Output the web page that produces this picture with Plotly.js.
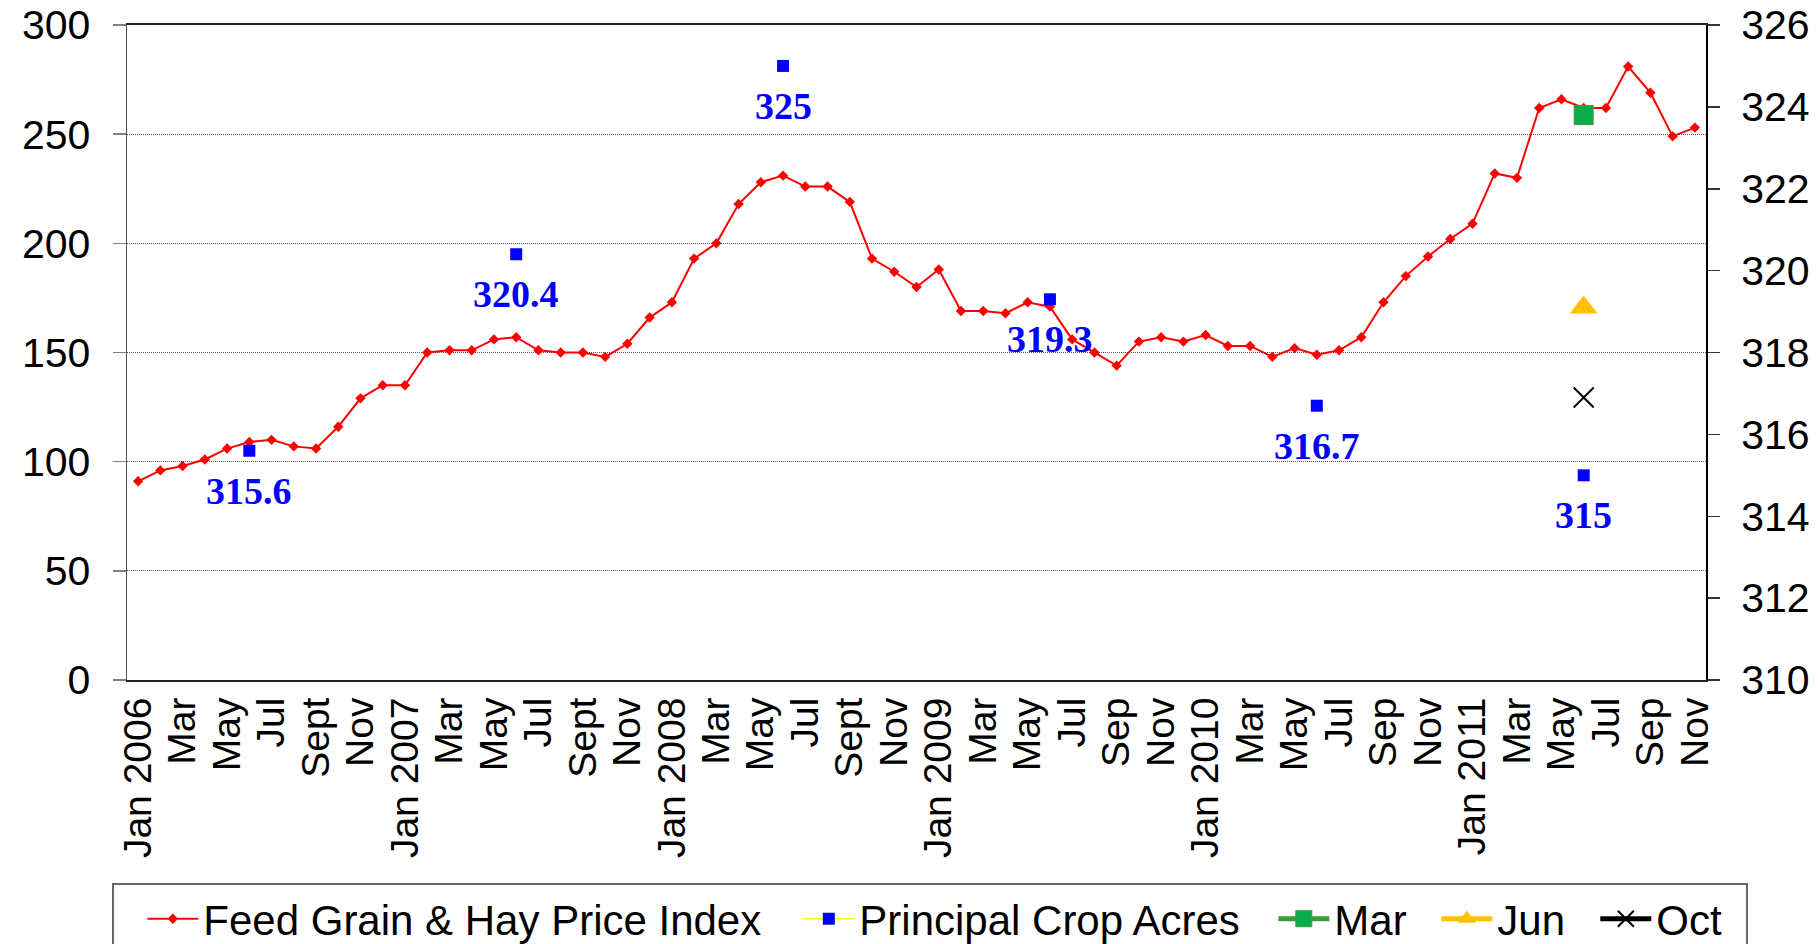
<!DOCTYPE html>
<html>
<head>
<meta charset="utf-8">
<script src="https://cdn.plot.ly/plotly-3.0.1.min.js"></script>
<style>
  html, body { margin: 0; padding: 0; background: #ffffff; }
  #chart { width: 1818px; height: 944px; }
</style>
</head>
<body>
<div id="chart"></div>
<script>
// ---- Categories (one per month) ----
const months = [
  'Jan 2006','Feb 2006','Mar 2006','Apr 2006','May 2006','Jun 2006','Jul 2006','Aug 2006','Sep 2006','Oct 2006','Nov 2006','Dec 2006',
  'Jan 2007','Feb 2007','Mar 2007','Apr 2007','May 2007','Jun 2007','Jul 2007','Aug 2007','Sep 2007','Oct 2007','Nov 2007','Dec 2007',
  'Jan 2008','Feb 2008','Mar 2008','Apr 2008','May 2008','Jun 2008','Jul 2008','Aug 2008','Sep 2008','Oct 2008','Nov 2008','Dec 2008',
  'Jan 2009','Feb 2009','Mar 2009','Apr 2009','May 2009','Jun 2009','Jul 2009','Aug 2009','Sep 2009','Oct 2009','Nov 2009','Dec 2009',
  'Jan 2010','Feb 2010','Mar 2010','Apr 2010','May 2010','Jun 2010','Jul 2010','Aug 2010','Sep 2010','Oct 2010','Nov 2010','Dec 2010',
  'Jan 2011','Feb 2011','Mar 2011','Apr 2011','May 2011','Jun 2011','Jul 2011','Aug 2011','Sep 2011','Oct 2011','Nov 2011'
];

// ---- Tick labels (every second month) ----
const tickLabels = [
  'Jan 2006','Mar','May','Jul','Sept','Nov',
  'Jan 2007','Mar','May','Jul','Sept','Nov',
  'Jan 2008','Mar','May','Jul','Sept','Nov',
  'Jan 2009','Mar','May','Jul','Sep','Nov',
  'Jan 2010','Mar','May','Jul','Sep','Nov',
  'Jan 2011','Mar','May','Jul','Sep','Nov'
];

// ---- Feed Grain & Hay Price Index (left axis) ----
const priceIndex = [
  91, 96, 98, 101, 106, 109, 110, 107, 106, 116, 129, 135,
  135, 150, 151, 151, 156, 157, 151, 150, 150, 148, 154, 166,
  173, 193, 200, 218, 228, 231, 226, 226, 219, 193, 187, 180,
  188, 169, 169, 168, 173, 171, 156, 150, 144, 155, 157, 155,
  158, 153, 153, 148, 152, 149, 151, 157, 173, 185, 194, 202,
  209, 232, 230, 262, 266, 262, 262, 281, 269, 249, 253
];

// ---- Principal Crop Acres (right axis, million acres) ----
const acresMonths = ['Jun 2006','Jun 2007','Jun 2008','Jun 2009','Jun 2010','Jun 2011'];
const acresValues = [315.6, 320.4, 325, 319.3, 316.7, 315];

// ---- 2011 report estimates (right axis) ----
const reportMonth = ['Jun 2011'];
const marValue = [323.8];
const junValue = [319.1];
const octValue = [316.9];

// ---- Build padded acres series so isolated points are not joined ----
const acresY = months.map(m => {
  const k = acresMonths.indexOf(m);
  return k >= 0 ? acresValues[k] : null;
});

const FONT = 'Liberation Sans, Arial, sans-serif';

const traces = [
  {
    name: 'Feed Grain & Hay Price Index',
    x: months, y: priceIndex,
    type: 'scatter', mode: 'lines+markers',
    line: {color: '#FF0000', width: 2},
    marker: {symbol: 'diamond', size: 8, color: '#FF0000'},
    legendwidth: 562,
    xaxis: 'x', yaxis: 'y'
  },
  {
    name: 'Principal Crop Acres',
    x: months, y: acresY,
    type: 'scatter', mode: 'lines+markers',
    connectgaps: false,
    line: {color: '#FFFF00', width: 1.5},
    marker: {symbol: 'square', size: 12, color: '#0000FF'},
    legendwidth: 381,
    xaxis: 'x', yaxis: 'y2'
  },
  {
    name: 'Mar',
    x: reportMonth, y: marValue,
    type: 'scatter', mode: 'lines+markers',
    line: {color: '#3C9C3C', width: 5},
    marker: {symbol: 'square-x', size: 19, color: '#00B050', line: {color: '#3C9C3C', width: 1}},
    legendwidth: 69,
    xaxis: 'x', yaxis: 'y2'
  },
  {
    name: 'Jun',
    x: reportMonth, y: junValue,
    type: 'scatter', mode: 'lines+markers',
    line: {color: '#FFC000', width: 5},
    marker: {symbol: 'triangle-up', size: 24, color: '#FFC000'},
    legendwidth: 65,
    xaxis: 'x', yaxis: 'y2'
  },
  {
    name: 'Oct',
    x: reportMonth, y: octValue,
    type: 'scatter', mode: 'lines+markers',
    line: {color: '#000000', width: 5},
    marker: {symbol: 'x-thin', size: 20, color: '#000000', line: {color: '#000000', width: 2}},
    legendwidth: 85,
    xaxis: 'x', yaxis: 'y2'
  }
];

const annotations = acresMonths.map((m, i) => ({
  x: m, y: acresValues[i], xref: 'x', yref: 'y2',
  text: String(acresValues[i]),
  showarrow: false, yshift: -40,
  font: {family: 'Liberation Serif, Times New Roman, serif', size: 38, color: '#0000FF', weight: 'bold'}
}));

const layout = {
  width: 1818, height: 944,
  paper_bgcolor: '#ffffff', plot_bgcolor: '#ffffff',
  margin: {l: 127, r: 112, t: 25, b: 264, pad: 0, autoexpand: false},
  showlegend: true,
  legend: {
    orientation: 'h',
    x: -0.0093, xanchor: 'left',
    y: -0.3098, yanchor: 'top',
    font: {family: FONT, size: 42, color: '#000000'},
    bordercolor: '#666666', borderwidth: 2,
    bgcolor: '#ffffff',
    itemwidth: 51,
    indentation: 28
  },
  xaxis: {
    type: 'category',
    categoryorder: 'array', categoryarray: months,
    range: [-0.5, months.length - 0.5],
    tickmode: 'array',
    tickvals: months.filter((m, i) => i % 2 === 0),
    ticktext: tickLabels,
    tickangle: -90,
    ticks: '', ticklen: 0,
    tickfont: {family: FONT, size: 39, color: '#000000'},
    showgrid: false, zeroline: false, automargin: false,
    showline: true, linecolor: '#222222', linewidth: 2, mirror: true
  },
  xaxis2: {
    overlaying: 'x', anchor: 'y', side: 'bottom',
    type: 'linear', range: [-0.5, months.length - 0.5],
    tick0: 0.5, dtick: 1,
    ticks: 'outside', ticklen: 12, tickcolor: '#333333', tickwidth: 1.5,
    showticklabels: false, showgrid: false, zeroline: false, showline: false, automargin: false
  },
  yaxis: {
    range: [0, 300], dtick: 50, tick0: 0,
    ticks: 'outside', ticklen: 13, tickcolor: '#808080', tickwidth: 1.5,
    ticklabelstandoff: 14,
    tickfont: {family: FONT, size: 41, color: '#000000'},
    showgrid: true, gridcolor: '#555555', gridwidth: 1, griddash: '1px,1px',
    zeroline: false, automargin: false,
    showline: true, linecolor: '#555555', linewidth: 1.5
  },
  yaxis2: {
    overlaying: 'y', side: 'right', anchor: 'x',
    range: [310, 326], dtick: 2, tick0: 310,
    ticks: 'outside', ticklen: 12, tickcolor: '#333333', tickwidth: 1.5,
    ticklabelstandoff: 13,
    tickfont: {family: FONT, size: 41, color: '#000000'},
    showgrid: false, zeroline: false, automargin: false,
    showline: true, linecolor: '#000000', linewidth: 2
  },
  yaxis3: {
    overlaying: 'y', side: 'right', anchor: 'x',
    range: [310, 326], dtick: 2, tick0: 310,
    ticks: 'inside', ticklen: 13, tickcolor: '#333333', tickwidth: 1.5,
    showticklabels: false, showgrid: false, zeroline: false, showline: false, automargin: false
  },
  annotations: annotations
};

Plotly.newPlot('chart', traces, layout, {displayModeBar: false, staticPlot: true});
</script>
</body>
</html>
